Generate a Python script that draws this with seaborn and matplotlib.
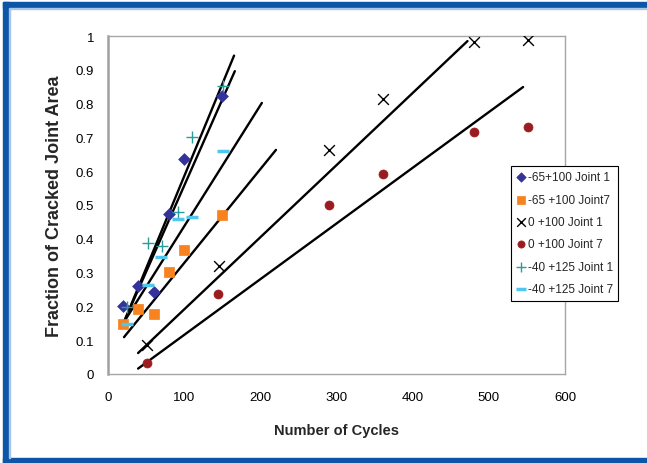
import matplotlib
matplotlib.use("Agg")
import matplotlib.pyplot as plt
from matplotlib.patches import Rectangle
from matplotlib.ticker import FuncFormatter, MultipleLocator
import seaborn as sns

cycles_65_j1 = [20, 40, 60, 80, 100, 150]
frac_65_j1 = [0.20, 0.26, 0.243, 0.473, 0.636, 0.822]

cycles_65_j7 = [20, 40, 60, 80, 100, 150]
frac_65_j7 = [0.148, 0.192, 0.177, 0.302, 0.367, 0.47]

cycles_0_j1 = [51, 146, 290, 361, 481, 551]
frac_0_j1 = [0.086, 0.32, 0.663, 0.814, 0.982, 0.988]

cycles_0_j7 = [51, 145, 290, 361, 480, 551]
frac_0_j7 = [0.033, 0.237, 0.50, 0.592, 0.716, 0.731]

cycles_40_j1 = [25, 52, 71, 92, 110, 151]
frac_40_j1 = [0.197, 0.388, 0.379, 0.478, 0.701, 0.851]

cycles_40_j7 = [25, 52, 70, 92, 110, 151]
frac_40_j7 = [0.149, 0.263, 0.346, 0.46, 0.465, 0.66]

labels = ["-65+100 Joint 1", "-65 +100 Joint7", "0 +100 Joint 1",
          "0 +100 Joint 7", "-40 +125 Joint 1", "-40 +125 Joint 7"]

# linear trend lines (start / end) drawn on the chart
trend_x0 = [21, 21, 21, 21, 39.5, 39.5]
trend_x1 = [165.5, 166.5, 202, 220.5, 472, 545]
trend_y0 = [0.154, 0.154, 0.154, 0.109, 0.062, 0.016]
trend_y1 = [0.942, 0.896, 0.802, 0.663, 0.985, 0.849]

sns.set_theme(style="white")
plt.rcParams['font.family'] = ['Liberation Sans', 'DejaVu Sans']

fig = plt.figure(figsize=(6.47, 4.64), dpi=100)
fig.patch.set_facecolor("white")
fig.patch.set_edgecolor("white")
fig.patch.set_linewidth(0)

# blue frame on left, top and bottom
frame_blue = "#0B56A6"
fig.patches.append(Rectangle((3 / 647, 0), 6 / 647, 461 / 464, transform=fig.transFigure,
                             color=frame_blue, zorder=0))
fig.patches.append(Rectangle((3 / 647, 455 / 464), 644 / 647, 6 / 464, transform=fig.transFigure,
                             color=frame_blue, zorder=0))
fig.patches.append(Rectangle((3 / 647, 0), 644 / 647, 5 / 464, transform=fig.transFigure,
                             color=frame_blue, zorder=0))
fig.patches.append(Rectangle((9 / 647, 454 / 464), 638 / 647, 1 / 464, transform=fig.transFigure,
                             color="#A9C6E6", zorder=0))
fig.patches.append(Rectangle((9 / 647, 5 / 464), 1 / 647, 449 / 464, transform=fig.transFigure,
                             color="#A9C6E6", zorder=0))

ax = fig.add_axes([108 / 647, 89 / 464, 457 / 647, 338 / 464])

for x0, x1, y0, y1 in zip(trend_x0, trend_x1, trend_y0, trend_y1):
    sns.lineplot(x=[x0, x1], y=[y0, y1], color="black", linewidth=1.7, ax=ax, legend=False)

series = [
    (cycles_65_j1, frac_65_j1, "D", "#333399", dict(s=36, edgecolor="#333399", linewidth=0.5)),
    (cycles_65_j7, frac_65_j7, "s", "#F7821E", dict(s=46, edgecolor="#F7821E", linewidth=0.5)),
    (cycles_0_j1, frac_0_j1, "x", "black", dict(s=60, linewidth=1.0)),
    (cycles_0_j7, frac_0_j7, "o", "#9B1C20", dict(s=42, edgecolor="#9B1C20", linewidth=0.5)),
    (cycles_40_j1, frac_40_j1, "+", "#2A9C9C", dict(s=75, linewidth=1.0)),
    (cycles_40_j7, frac_40_j7, "_", "#4FC6EE", dict(s=75, linewidth=2.5)),
]
for (xs, ys, mk, col, kw), lab in zip(series, labels):
    sns.scatterplot(x=xs, y=ys, marker=mk, color=col, label=lab, ax=ax, zorder=3, **kw)

ax.set_xlim(0, 600)
ax.set_ylim(0, 1)
ax.xaxis.set_major_locator(MultipleLocator(100))
ax.yaxis.set_major_locator(MultipleLocator(0.1))
ax.yaxis.set_major_formatter(FuncFormatter(lambda v, p: f"{v:.1f}".rstrip("0").rstrip(".") if v else "0"))

for side in ["top", "right", "bottom"]:
    ax.spines[side].set_color("#A6A6A6")
    ax.spines[side].set_linewidth(1.0)
ax.spines["left"].set_color("#A0A0A0")
ax.spines["left"].set_linewidth(1.8)

ax.tick_params(axis="both", direction="out", length=5, width=1, color="black",
               labelsize=9.5, labelcolor="black")
ax.tick_params(axis="x", pad=7)
ax.tick_params(axis="y", pad=5)

ax.set_xlabel("Number of Cycles", fontsize=10.5, fontweight="bold", labelpad=15)
ax.set_ylabel("Fraction of Cracked Joint Area", fontsize=13, fontweight="bold", labelpad=9)

leg = ax.legend(loc="upper left", bbox_to_anchor=(511 / 647, 297 / 464), bbox_transform=fig.transFigure,
                fontsize=8.5, frameon=True, fancybox=False, shadow=False, framealpha=1,
                edgecolor="black", borderpad=0.45, labelspacing=0.88, handlelength=0.8,
                handletextpad=0.15, borderaxespad=0, markerscale=0.8)
leg.get_frame().set_linewidth(0.8)

fig.savefig("out.png", dpi=100, facecolor="white")
